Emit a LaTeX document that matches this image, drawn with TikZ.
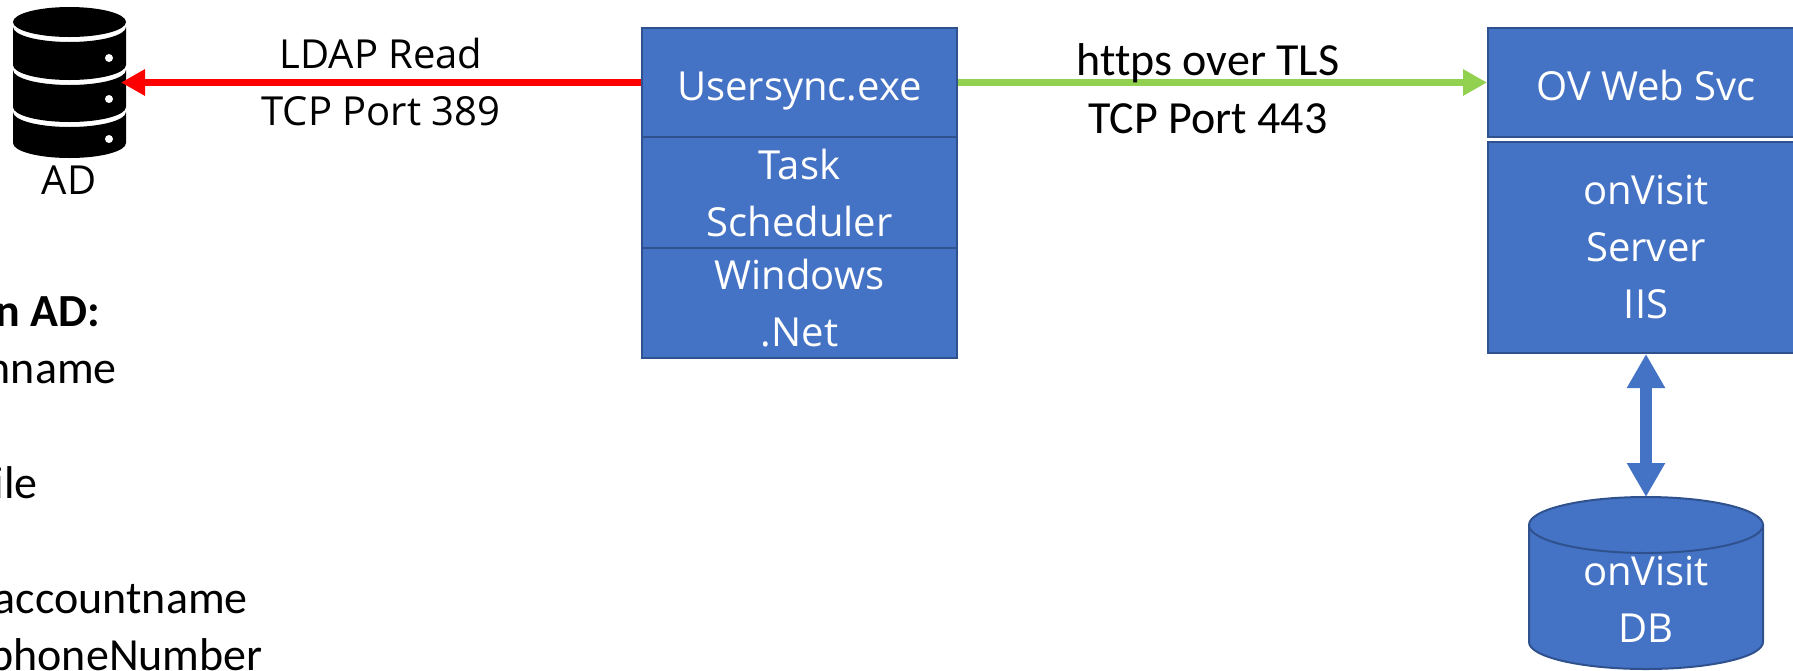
\documentclass[tikz,border=0pt]{standalone}
\usepackage{fontspec}
\setmainfont{Open Sans}
\newfontfamily\calfont[Ligatures=NoCommon]{Carlito}
\usetikzlibrary{arrows.meta}
\definecolor{boxblue}{HTML}{4472C4}
\definecolor{boxedge}{HTML}{2F528F}
\definecolor{arrgreen}{HTML}{92D050}
\definecolor{arrred}{HTML}{FF0000}
\begin{document}
\begin{tikzpicture}[x=1pt,y=-1pt,
  box/.style={fill=boxblue, draw=boxedge, line width=2pt, text=white,
    font=\fontsize{40}{57}\selectfont, align=center, inner sep=0pt},
  onebox/.style={box, text height=35pt, text depth=0pt},
  lbl/.style={font=\fontsize{40}{57}\selectfont, inner sep=0pt},
  callbl/.style={font=\calfont\fontsize{46}{57}\selectfont, inner sep=0pt},
  listtxt/.style={font=\calfont\fontsize{46}{57}\selectfont, inner sep=0pt, anchor=base east},
  redarr/.style={draw=arrred, line width=7pt, -{Triangle[length=24pt,width=25pt]}},
  grnarr/.style={draw=arrgreen, line width=7pt, -{Triangle[length=24pt,width=25pt]}},
  dblarr/.style={draw=boxblue, line width=12pt, {Triangle[length=34pt,width=36pt]}-{Triangle[length=34pt,width=36pt]}},
  dbshape/.style={fill=boxblue, draw=boxedge, line width=2pt}
]
\useasboundingbox (0,0) rectangle (1793,670);
\clip (0,0) rectangle (1793,670);

% AD database icon
\fill (69.5,22) ellipse [x radius=56.5pt, y radius=15pt];
\fill (13,27) arc[start angle=180,end angle=360,x radius=56.5pt,y radius=15pt] -- (126,65)
      arc[start angle=0,end angle=-180,x radius=56.5pt,y radius=15pt] -- cycle;
\fill (13,70) arc[start angle=180,end angle=360,x radius=56.5pt,y radius=15pt] -- (126,107)
      arc[start angle=0,end angle=-180,x radius=56.5pt,y radius=15pt] -- cycle;
\fill (13,112) arc[start angle=180,end angle=360,x radius=56.5pt,y radius=15pt] -- (126,143)
      arc[start angle=0,end angle=-180,x radius=56.5pt,y radius=15pt] -- cycle;
\fill[white] (109,58) circle[radius=4pt];
\fill[white] (109,99) circle[radius=4pt];
\fill[white] (109,139) circle[radius=4pt];
\coordinate (adtip) at (121,82.5);
\node[lbl, anchor=base] (adlbl) at (69,194) {AD};

% attribute list (cut at the left edge)
\node[listtxt] (l1) at (100,326) {\bfseries n AD:};
\node[listtxt] (l2) at (117,383) {nname};
\node[listtxt] (l3) at (38,498) {ile};
\node[listtxt] (l4) at (248,613) {accountname};
\node[listtxt] (l5) at (263,670) {phoneNumber};

% Usersync stack
\node[onebox, minimum width=315pt, minimum height=109pt] (us) at (799.5,82.5) {Usersync.exe};
\node[box, minimum width=315pt, minimum height=111pt] (ts) at (799.5,192.5) {Task\\Scheduler};
\node[box, minimum width=315pt, minimum height=110pt] (win) at (799.5,303) {Windows\\.Net};

% onVisit server
\node[onebox, minimum width=316pt, minimum height=109pt] (ov) at (1646,82.5) {OV Web Svc};
\node[box, minimum width=316pt, minimum height=211pt] (srv) at (1646,247.5) {onVisit\\Server\\IIS};

% onVisit DB cylinder
\path[dbshape] (1529,525) -- (1529,642)
   arc[start angle=180,end angle=360,x radius=117pt,y radius=27pt] -- (1763,525) -- cycle;
\path[dbshape] (1646,525) ellipse [x radius=117pt, y radius=28pt];
\coordinate (dbtop) at (1646,497);
\node[box, fill=none, draw=none] (db) at (1646,599) {onVisit\\DB};

% connectors
\draw[redarr] (us.west) -- (adtip);
\draw[grnarr] (us.east) -- (ov.west);
\draw[dblarr] (srv.south) -- (dbtop);

% connector labels
\node[lbl, anchor=base] (ldap1) at (381,68) {LDAP Read};
\node[lbl, anchor=base] (ldap2) at (381,125) {TCP Port 389};
\node[callbl, anchor=base] (tls1) at (1208,75) {https over TLS};
\node[callbl, anchor=base] (tls2) at (1208,133) {TCP Port 443};
\end{tikzpicture}
\end{document}
